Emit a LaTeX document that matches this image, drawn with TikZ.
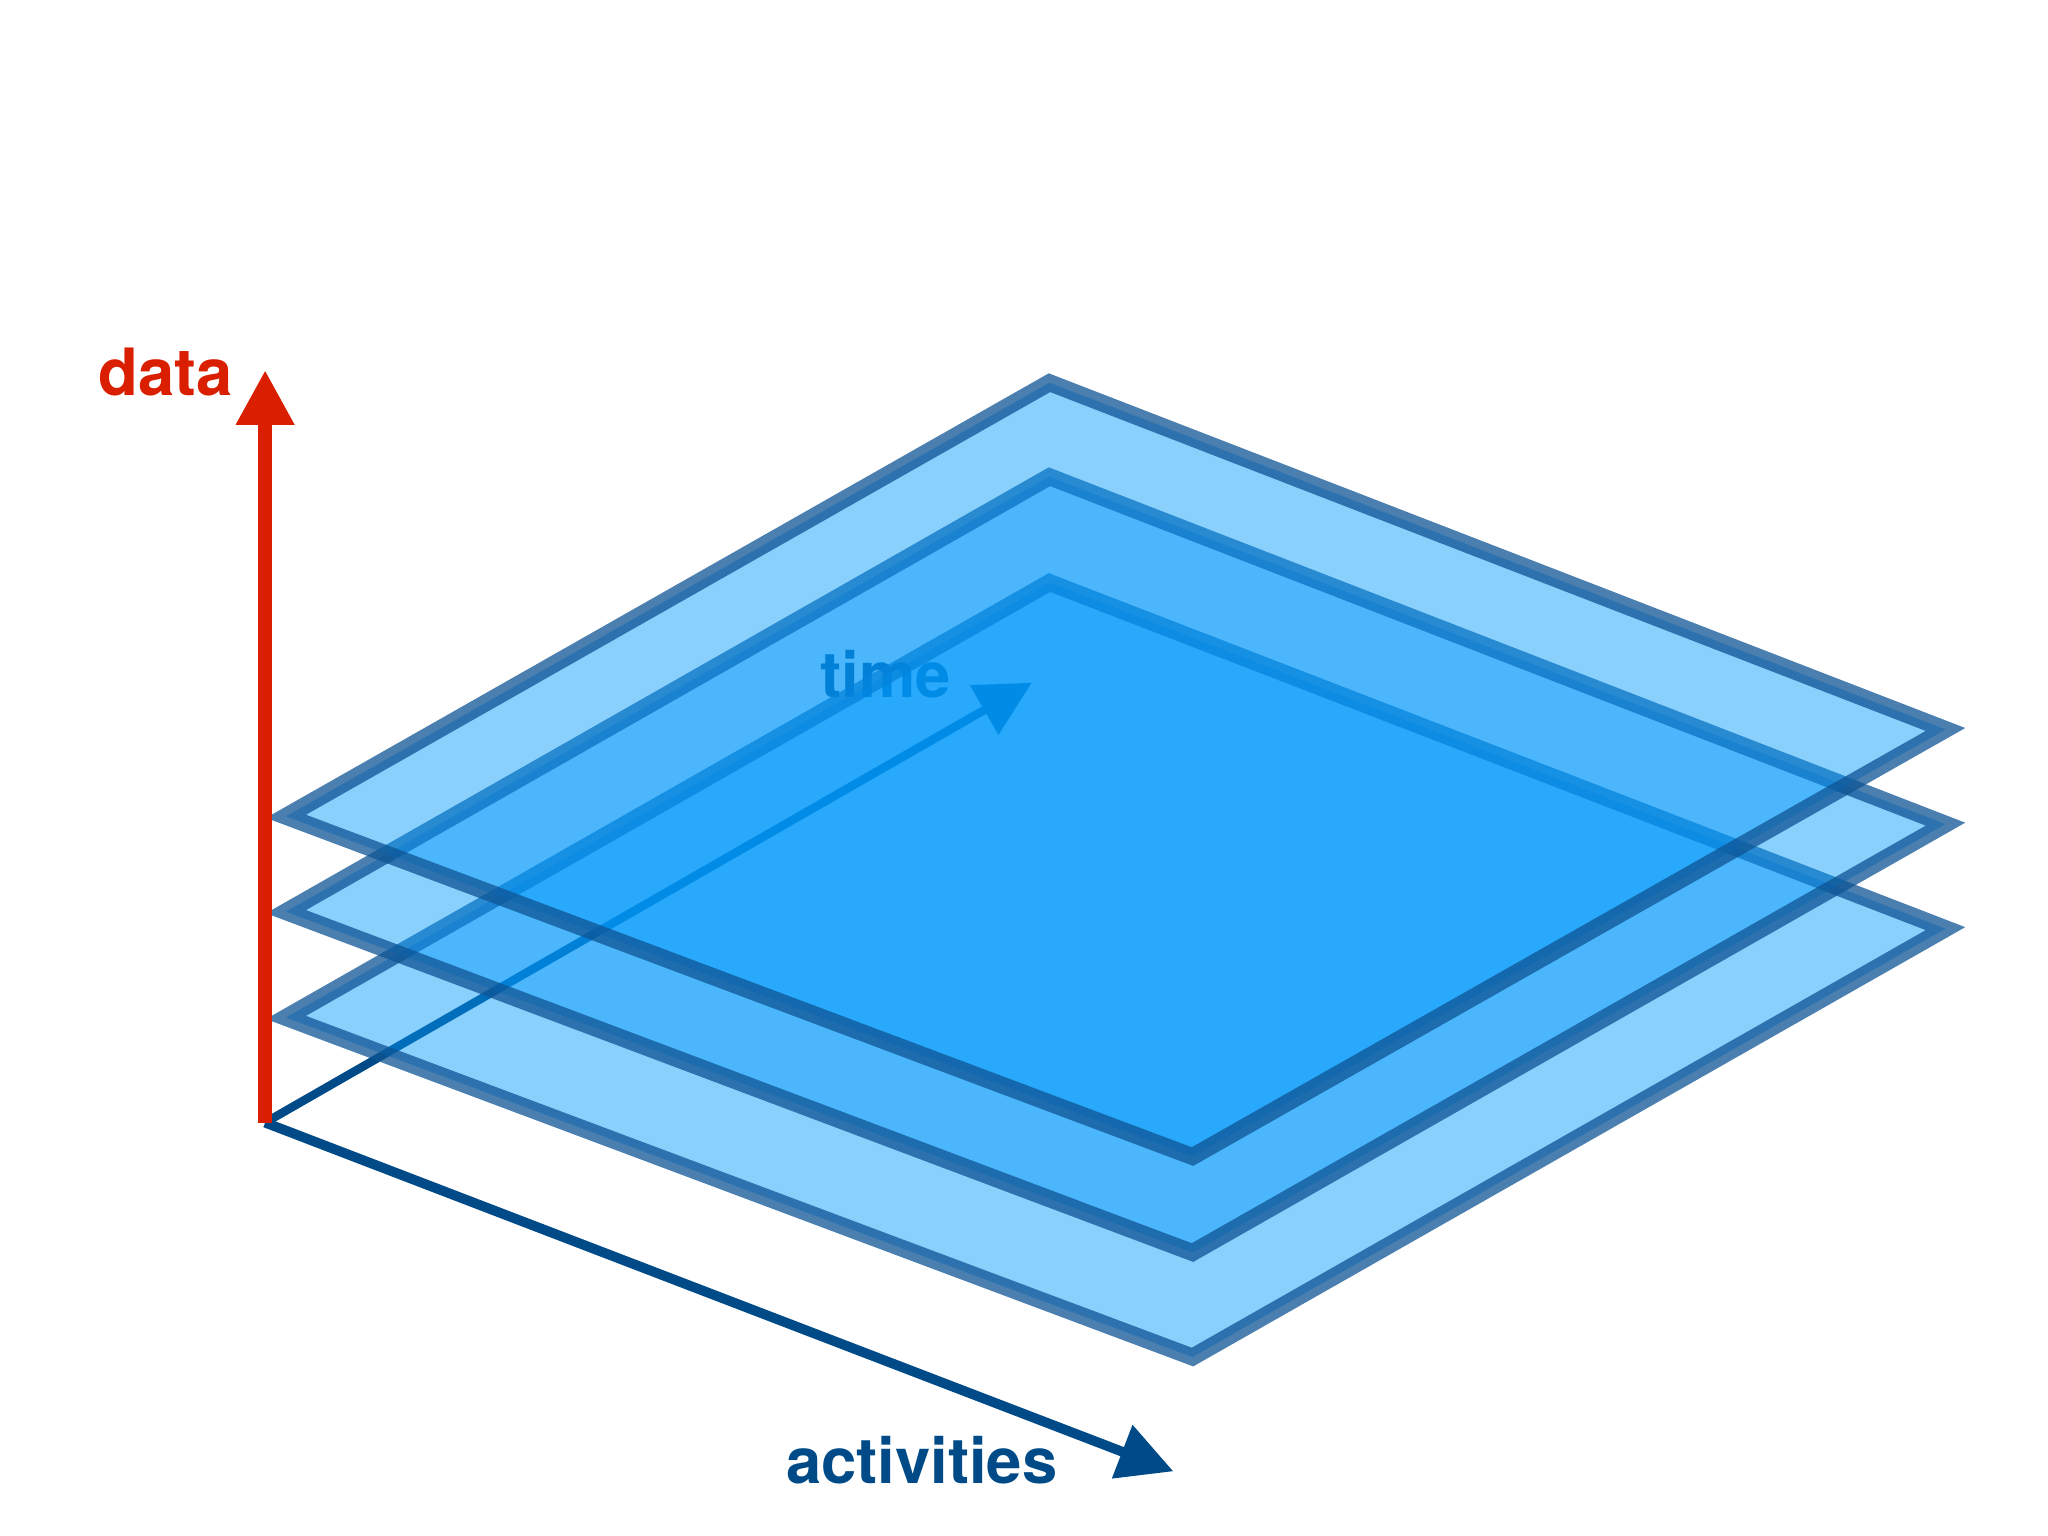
\documentclass[tikz,border=0pt]{standalone}
\usepackage{fontspec}
\setmainfont{TeX Gyre Heros}
\usetikzlibrary{arrows.meta}
\definecolor{axred}{RGB}{217,31,0}
\definecolor{axnavy}{RGB}{0,75,135}
\definecolor{planefill}{RGB}{0,152,250}
\definecolor{planeedge}{RGB}{14,84,148}
\begin{document}
\begin{tikzpicture}[x=0.01cm,y=-0.01cm,
  plane/.style={fill=planefill, fill opacity=0.46, draw=planeedge, draw opacity=0.75, line width=0.13cm, line join=miter},
  axislabel/.style={font=\bfseries\fontsize{13.8pt}{16pt}\selectfont, inner sep=0pt, anchor=base},
  axisarrow/.style={line cap=butt, -{Triangle[length=0.42cm,width=0.42cm]}}
]
\useasboundingbox (0,0) rectangle (1568,1176);
% axes origin and tips
\coordinate (o) at (203,859.5);
\coordinate (datatip) at (203,283.3);
\coordinate (timetip) at (790,522.7);
\coordinate (acttip) at (898.4,1126.5);
% time axis (under the planes)
\draw[axisarrow, draw=axnavy, fill=axnavy, line width=0.065cm] (o) -- (timetip);
\node[axislabel, text=axnavy] (timelbl) at (678.3,534.2) {time};
% planes: bottom, middle, top
\coordinate (bL) at (219,779);   \coordinate (bT) at (803.5,446);
\coordinate (bR) at (1489.5,711); \coordinate (bB) at (913,1039);
\coordinate (mL) at (219,698);   \coordinate (mT) at (803.5,365);
\coordinate (mR) at (1489.5,631); \coordinate (mB) at (913,959);
\coordinate (tL) at (219,625);   \coordinate (tT) at (803.5,293);
\coordinate (tR) at (1489.5,558.5); \coordinate (tB) at (913,885.5);
\path[plane] (bL) -- (bT) -- (bR) -- (bB) -- cycle;
\path[plane] (mL) -- (mT) -- (mR) -- (mB) -- cycle;
\path[plane] (tL) -- (tT) -- (tR) -- (tB) -- cycle;
% activities axis
\draw[axisarrow, draw=axnavy, fill=axnavy, line width=0.075cm] (o) -- (acttip);
\node[axislabel, text=axnavy] (actlbl) at (705.7,1135.8) {activities};
% data axis
\draw[axisarrow, draw=axred, fill=axred, line width=0.105cm] (o) -- (datatip);
\node[axislabel, text=axred, font=\bfseries\fontsize{14.2pt}{16pt}\selectfont] (datalbl) at (126.9,303) {data};
\end{tikzpicture}
\end{document}
